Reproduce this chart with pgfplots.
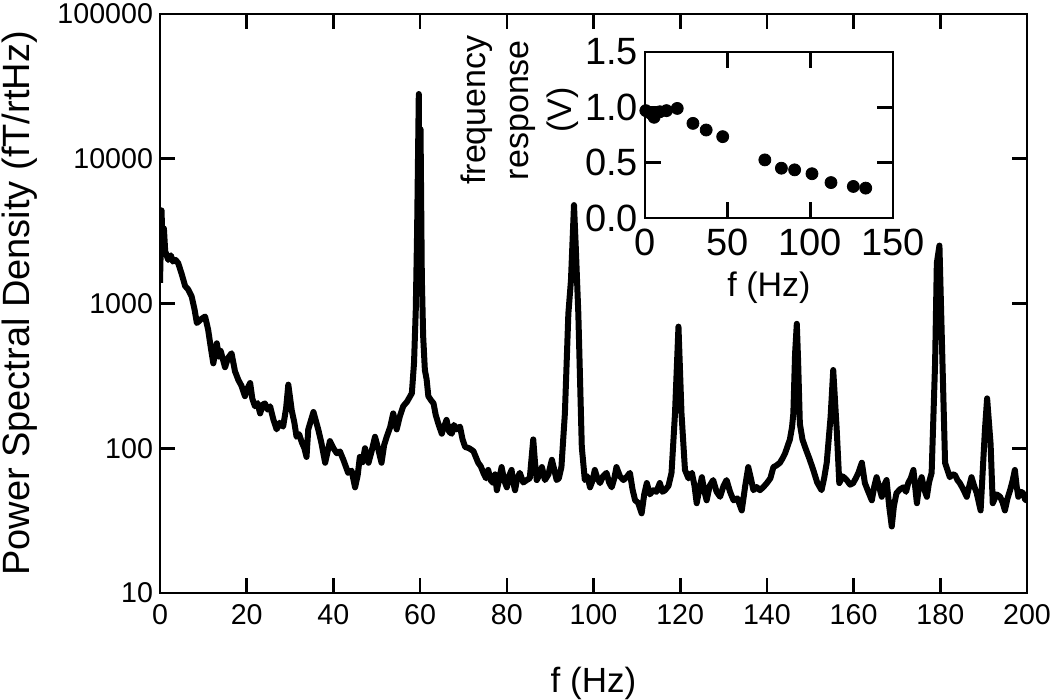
\documentclass[border=0pt]{standalone}
\usepackage{fontspec}
\setmainfont{Liberation Sans}
\usepackage{pgfplots}
\pgfplotsset{compat=1.18}

\begin{document}
\begin{tikzpicture}
\path[use as bounding box] (-80pt,-53.5pt) rectangle (445pt,296.5pt);
\begin{axis}[
  name=main, at={(0pt,0pt)}, anchor=south west,
  scale only axis, width=433.5pt, height=289.5pt,
  xmin=0, xmax=200, ymode=log, ymin=10, ymax=100000,
  xtick={0,20,...,200},
  ytick={10,100,1000,10000,100000},
  yticklabels={10,100,1000,10000,100000},
  minor y tick style={draw=none},
  tick align=inside,
  major tick length=7.5pt,
  axis line style={line width=1.3pt},
  every tick/.style={line width=1.3pt, black},
  /pgf/number format/assume math mode=true,
  tick label style={font=\fontsize{14.3}{17}\selectfont},
  xticklabel style={yshift=-2pt},
  xlabel={f (Hz)},
  ylabel={Power Spectral Density (fT/rtHz)},
  xlabel style={font=\fontsize{17.5}{21}\selectfont, at={(axis description cs:0.5,0)}, anchor=base, yshift=-50pt},
  ylabel style={font=\fontsize{19}{22}\selectfont, at={(axis description cs:-0.1822,0.5)}, anchor=north, inner sep=0pt},
]
\addplot[black, line width=3pt, line join=round] coordinates {
(0.0,1390) (0.2,2600) (0.35,4400) (0.6,2500) (0.9,3300) (1.2,2300) (1.9,2000) (2.5,2150) (3.0,1950) (3.6,2000) (4.2,1900) (5.0,1600) (5.8,1320) (6.5,1250) (7.3,1120) (8.0,900) (8.5,733) (9.5,780) (10.4,813) (11.1,661) (11.7,500) (12.3,386) (13.1,531) (13.6,430) (14.0,470) (15.0,363) (15.7,420) (16.5,453) (17.3,340) (18.1,295) (18.8,270) (19.6,229) (20.2,260) (20.8,282) (21.3,220) (21.9,195) (22.5,205) (23.1,174) (23.7,200) (24.2,204) (24.8,185) (25.4,195) (26.1,160) (26.9,135) (27.6,150) (28.4,141) (29.1,190) (29.6,275) (30.4,182) (31.0,150) (31.5,120) (32.1,125) (32.7,110) (33.3,100) (33.8,87.1) (34.2,135) (35.4,178) (36.5,135) (37.2,110) (38.1,79.4) (39.2,112) (40.0,100) (40.8,92.3) (41.5,95) (42.3,83.2) (43.4,67.6) (44.2,70) (45.0,53.7) (45.6,65) (46.1,87.1) (46.7,80) (47.3,100) (48.1,79.4) (48.8,95) (49.6,120) (50.3,100) (51.1,79.4) (51.7,105) (52.3,120) (53.1,140) (53.8,174) (54.6,135) (55.3,165) (56.1,195) (57.0,210) (58.1,240) (58.6,389) (59.0,900) (59.3,3000) (59.7,28000) (59.9,1800) (60.1,16000) (60.4,1500) (60.7,600) (61.1,347) (61.5,300) (61.9,229) (62.5,215) (63.1,204) (63.6,170) (64.2,148) (65.0,126) (65.5,140) (66.1,157) (66.7,130) (67.3,126) (67.8,145) (68.4,135) (69.2,141) (69.8,115) (70.4,102) (71.3,100) (72.3,95.5) (73.4,79.4) (74.0,75) (74.6,67.6) (75.2,62) (75.7,70.8) (76.3,60) (76.9,57.5) (77.3,66) (77.7,51.3) (78.3,62) (78.8,74.1) (79.4,60) (80.0,53.7) (80.5,64) (81.1,70.8) (81.5,58) (81.9,51.3) (82.4,62) (83.0,67.6) (83.8,58) (84.6,60.3) (85.3,62) (86.1,115) (86.5,80) (86.9,60.3) (87.5,65) (88.1,74.1) (88.8,60.3) (89.6,66) (90.4,83.2) (91.0,70) (91.5,60.3) (92.0,62) (92.6,74.1) (93.4,174) (94.2,851) (94.8,1445) (95.5,4786) (95.9,2500) (96.5,851) (97.3,102) (98.0,60.3) (98.6,64) (99.2,53.7) (99.8,60) (100.3,70.8) (100.9,62) (101.5,57.5) (102.2,64) (103.0,67.6) (103.6,58) (104.2,53.7) (104.8,62) (105.3,74.1) (106.1,64) (106.9,60.3) (107.6,63) (108.4,67.6) (109.0,52) (109.6,43.7) (110.3,42) (111.1,35.5) (111.7,48) (112.3,57.5) (113.0,48) (113.8,51.3) (114.5,50) (115.3,57.5) (115.9,50) (116.5,51.3) (117.3,55) (118.0,67.6) (118.8,174) (119.6,692) (120.3,174) (121.1,70.8) (121.9,62) (122.7,67.6) (123.3,55) (123.8,41.7) (124.4,52) (125.0,63.1) (125.6,50) (126.1,43.7) (126.8,55) (127.6,60.3) (128.4,50) (129.2,46.2) (130.0,55) (130.7,60.3) (131.5,50) (132.3,43.7) (133.2,45) (134.2,37.2) (135.0,55) (135.7,74.1) (136.3,62) (136.9,51.3) (137.6,54) (138.4,51.3) (139.2,54) (140.0,57.5) (140.8,62) (141.5,74.1) (142.2,76) (143.0,79.4) (143.6,85) (144.2,92.3) (145.3,115) (145.8,140) (146.1,174) (146.5,450) (146.9,724) (147.2,400) (147.6,148) (148.2,115) (148.8,102) (149.9,83.2) (150.7,70.8) (151.6,58) (152.6,51.3) (153.2,62) (153.8,79.4) (154.7,166) (155.3,347) (156.1,135) (156.7,57.5) (157.5,64) (158.4,60.3) (159.2,56) (159.9,57.5) (160.5,62) (161.1,67.6) (161.9,79.4) (162.6,57.5) (163.4,50) (164.2,43.7) (164.8,55) (165.3,63.1) (165.9,54) (166.5,46.2) (167.0,55) (167.6,60.3) (168.2,40) (168.8,28.8) (169.3,40) (169.9,49.0) (170.7,52) (171.5,53.7) (172.1,50) (172.6,57.5) (173.2,62) (173.8,70.8) (174.6,41.7) (175.1,55) (175.7,63.1) (176.3,52) (176.9,46.2) (177.4,58) (178.0,67.6) (178.8,389) (179.2,1905) (179.8,2512) (180.5,389) (181.1,79.4) (181.7,70) (182.2,63.1) (182.8,66) (183.4,65.3) (184.0,60) (184.5,57.5) (185.3,52) (186.1,46.2) (186.7,55) (187.2,63.1) (187.8,55) (188.4,49.0) (189.3,37.2) (190.3,135) (190.8,221) (191.6,107) (192.1,41.7) (193.0,48) (193.8,46.2) (194.4,42) (194.9,37.2) (195.5,45) (196.1,51.3) (196.7,60) (197.2,70.8) (197.6,55) (198.0,46.2) (198.6,50) (199.1,49.0) (199.6,44) (200,43.7)
};
\end{axis}

\begin{axis}[
  name=inset, at={(242.5pt,187.5pt)}, anchor=south west,
  scale only axis, width=124pt, height=83pt,
  xmin=0, xmax=150, ymin=0, ymax=1.5,
  xtick={0,50,100,150},
  ytick={0,0.5,1,1.5},
  yticklabel style={/pgf/number format/.cd, fixed, fixed zerofill, precision=1},
  tick align=inside,
  major tick length=8pt,
  axis line style={line width=1.3pt},
  every tick/.style={line width=1.3pt, black},
  axis background/.style={fill=white},
  /pgf/number format/assume math mode=true,
  tick label style={font=\fontsize{19}{22}\selectfont},
  xticklabel style={yshift=-2pt},
  xlabel={f (Hz)},
  ylabel={frequency\\response\\(V)},
  xlabel style={font=\fontsize{17}{21}\selectfont, at={(axis description cs:0.5,0)}, anchor=base, yshift=-39.5pt},
  ylabel style={font=\fontsize{17}{21.5}\selectfont, align=center, at={(axis description cs:-0.504,0.65)}, anchor=center, inner sep=0pt},
]
\addplot[only marks, mark=*, mark size=3pt, black] coordinates {
(0.5,0.97) (3,0.95) (5.5,0.91) (9,0.96) (13,0.97) (19.5,0.99) (29,0.855) (37,0.795) (47,0.735) (72.5,0.525) (82.5,0.45) (90.5,0.435) (101,0.40) (112.5,0.32) (126,0.285) (133.5,0.27)
};
\end{axis}
\end{tikzpicture}
\end{document}
